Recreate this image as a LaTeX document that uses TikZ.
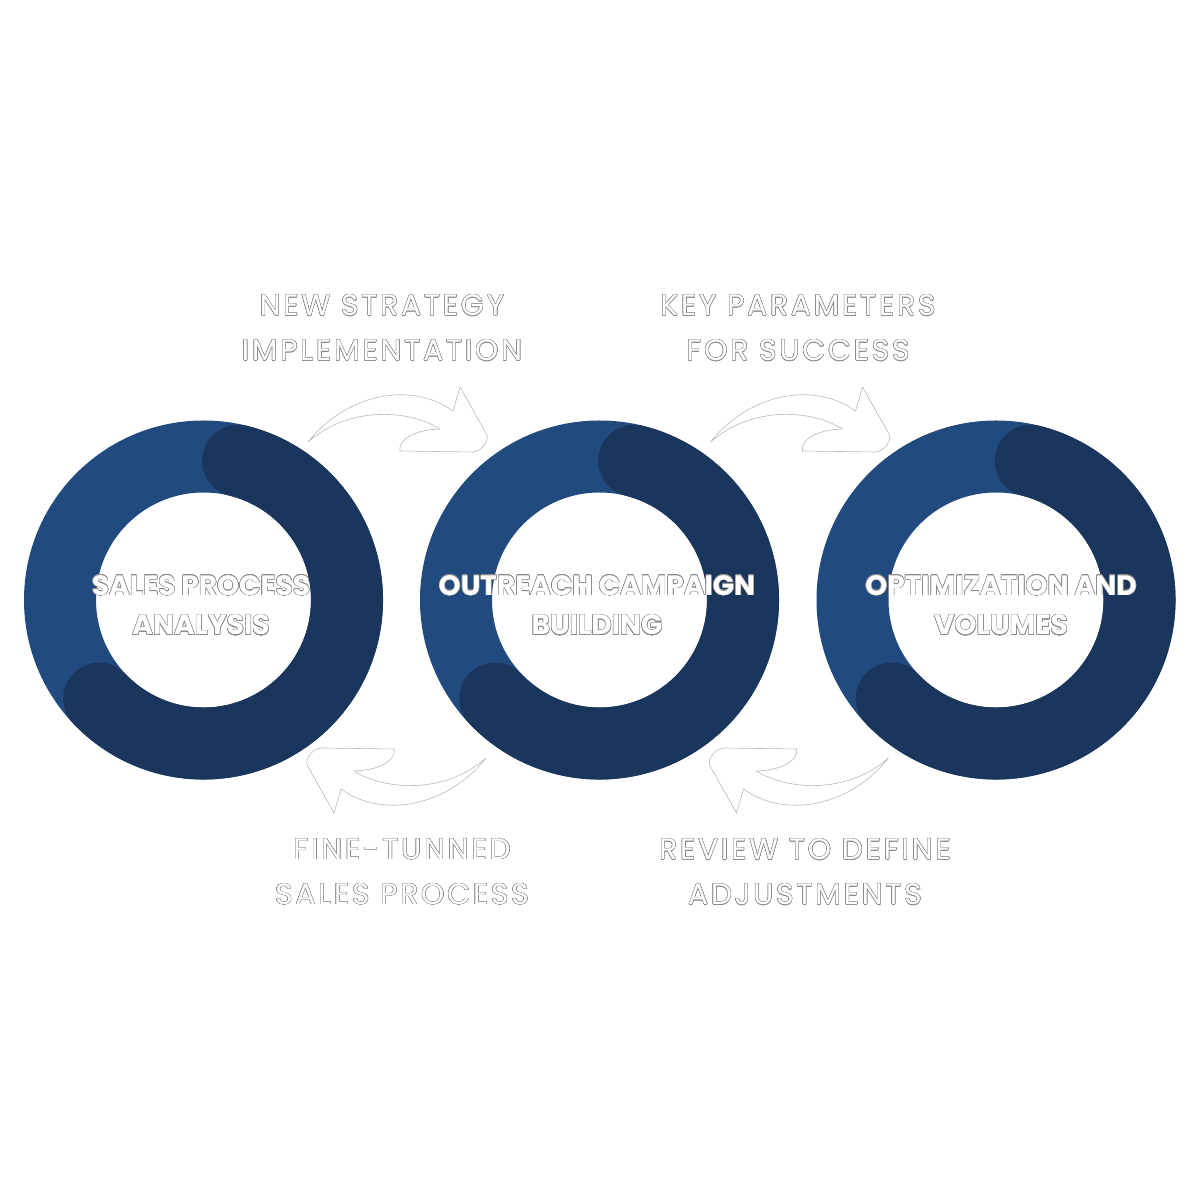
\documentclass[tikz,border=0pt]{standalone}
\usepackage{fontspec}
\setmainfont{Poppins}
\newfontfamily\notefont{Poppins}[LetterSpace=10]
\usepackage{contour}
\contourlength{0.45pt}
\contournumber{24}
\definecolor{ringlight}{HTML}{214A7E}
\definecolor{ringdark}{HTML}{1A365D}
\definecolor{rimgray}{HTML}{8C8C8C}
\newcommand{\rimtext}[1]{\contour{rimgray}{#1}}
\tikzset{
	ringbase/.style={draw=ringlight, line width=72pt},
	ringarc/.style={draw=ringdark, line width=72pt, line cap=round},
	flowarrow/.style={fill=white, draw=gray!55, line width=0.6pt, line join=round},
	steptext/.style={text=white, font=\bfseries\fontsize{28}{39.5}\selectfont, align=center, inner sep=0pt},
	notetext/.style={text=white, font=\notefont\fontsize{29.5}{45}\selectfont, align=center, inner sep=0pt}
}
\begin{document}
\begin{tikzpicture}[x=1pt, y=1pt, line join=round]
	\useasboundingbox[fill=white] (0,0) rectangle (1200,1200);
	
	% 1. Ba vong tron
	\foreach \cx in {203.5, 599.5, 996} {
		\begin{scope}[shift={(\cx,600)}]
			\draw[ringbase] (0,0) circle (143.5);
			\draw[ringarc] (76:143.5) arc[start angle=76, end angle=-136.6, radius=143.5];
		\end{scope}
	}
	
	% 2. Mui ten cong (tren va duoi, xoay 180 do)
	\foreach \ax in {397, 799.5} {
		\foreach \turn in {0, 180} {
			\begin{scope}[shift={(\ax,600)}, rotate=\turn]
				\draw[flowarrow] (-89,158) .. controls (-52,205) and (13,220) .. (56,189) -- (63,213) -- (90,165)
					.. controls (92,158) and (83,148) .. (76,148) -- (3,149)
					.. controls (1,158) and (13,170) .. (43,171)
					.. controls (13,190) and (-47,195) .. (-89,158) -- cycle;
			\end{scope}
		}
	}
	
	% 3. Chu trong vong tron
	\node[steptext] (sales) at (201,594.5) {\rimtext{SALES PROCESS}\\\rimtext{ANALYSIS}};
	\node[steptext] (outreach) at (597,594.5) {\rimtext{OUTREACH CAMPAIGN}\\\rimtext{BUILDING}};
	\node[steptext] (optimize) at (1001,594.5) {\rimtext{OPTIMIZATION AND}\\\rimtext{VOLUMES}};
	
	% 4. Chu ben ngoai
	\node[notetext] (strategy) at (382,872) {\rimtext{NEW STRATEGY}\\\rimtext{IMPLEMENTATION}};
	\node[notetext] (params) at (798,872) {\rimtext{KEY PARAMETERS}\\\rimtext{FOR SUCCESS}};
	\node[notetext] (finetune) at (402,328) {\rimtext{FINE-TUNNED}\\\rimtext{SALES PROCESS}};
	\node[notetext] (review) at (805,328) {\rimtext{REVIEW TO DEFINE}\\\rimtext{ADJUSTMENTS}};
\end{tikzpicture}
\end{document}
